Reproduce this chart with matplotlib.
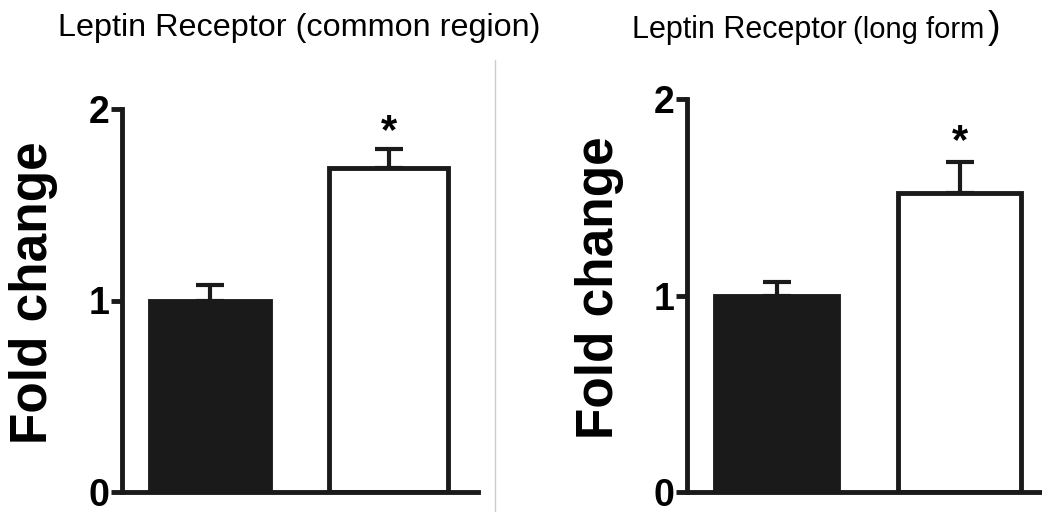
import matplotlib
matplotlib.use("Agg")
import matplotlib.pyplot as plt
from matplotlib.lines import Line2D

plt.rcParams['font.family'] = ['Liberation Sans', 'DejaVu Sans']

# ================================================
# DATA
# ================================================
groups      = ['control', 'treated']
bar_colors  = ['#1a1a1a', 'white']
common_mean = [1.00, 1.69]
common_err  = [0.08, 0.10]
common_star = 1.88
long_mean   = [1.00, 1.52]
long_err    = [0.07, 0.16]
long_star   = 1.78
yticks      = [0, 1, 2]
# ================================================

W, H = 1042, 512
fig = plt.figure(figsize=(W/100, H/100), dpi=100)

def px(x0, y_top, x1, y_bot):
    return [x0/W, 1 - y_bot/H, (x1 - x0)/W, (y_bot - y_top)/H]

def panel(rect, mean, err, star_y):
    ax = fig.add_axes(rect)
    pos = [0, 1]
    ax.bar(pos, mean, width=0.67, color=bar_colors, edgecolor='#1a1a1a', lw=3.5, zorder=2)
    ax.errorbar(pos, mean, yerr=[[0, 0], err], fmt='none', ecolor='#1a1a1a',
                elinewidth=3, capsize=10, capthick=3, zorder=1)
    ax.text(1, star_y, '*', ha='center', va='center', fontsize=30, fontweight='bold')
    ax.set_xlim(-0.49, 1.5)
    ax.set_ylim(0, 2)
    ax.set_yticks(yticks)
    ax.set_yticklabels([str(t) for t in yticks], fontsize=27, fontweight='bold')
    ax.set_xticks([])
    for s in ['top', 'right']:
        ax.spines[s].set_visible(False)
    for s in ['left', 'bottom']:
        ax.spines[s].set_linewidth(3.5)
        ax.spines[s].set_color('#1a1a1a')
    ax.tick_params(axis='y', length=8, width=3.5, pad=1, color='#1a1a1a')
    return ax

panel(px(122, 109, 478, 492), common_mean, common_err, common_star)
panel(px(687, 99, 1051, 492), long_mean, long_err, long_star)

# y labels
fig.text(34/W, 1 - 293/H, 'Fold change', rotation=90, ha='center', va='center',
         fontsize=37, fontweight='bold')
fig.text(599/W, 1 - 288/H, 'Fold change', rotation=90, ha='center', va='center',
         fontsize=37, fontweight='bold')

# titles
fig.text(58/W, 1 - 36/H, 'Leptin Receptor (common region)', ha='left', va='baseline', fontsize=23.3)
fig.text(632/W, 1 - 38/H, 'Leptin Receptor', ha='left', va='baseline', fontsize=22)
fig.text(853/W, 1 - 38/H, '(long form', ha='left', va='baseline', fontsize=21)
fig.text(988/W, 1 - 38/H, ')', ha='left', va='baseline', fontsize=27)

# separator between panels
fig.add_artist(Line2D([495/W, 495/W], [0, 1 - 60/H], color='#cccccc', lw=1))

plt.savefig('out.png', dpi=100)
plt.close()
